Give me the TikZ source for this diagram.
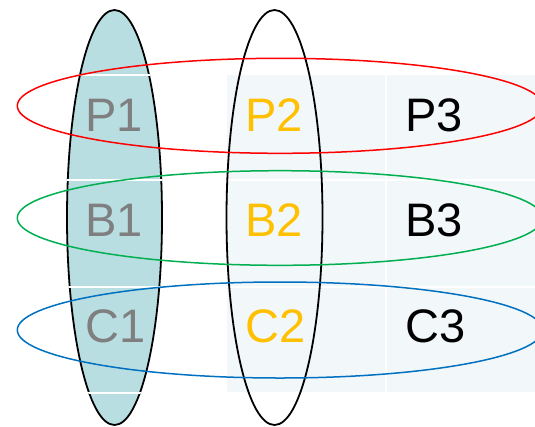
\documentclass[tikz,border=0pt]{standalone}
\usepackage{fontspec}
\setmainfont{Liberation Sans}
\definecolor{cellbg}{RGB}{242,247,250}
\definecolor{tealfill}{RGB}{184,222,226}
\definecolor{txtgray}{RGB}{127,127,127}
\definecolor{txtyellow}{RGB}{255,192,0}
\definecolor{ellred}{RGB}{255,0,0}
\definecolor{ellgreen}{RGB}{0,176,80}
\definecolor{ellblue}{RGB}{0,112,192}
\begin{document}
\begin{tikzpicture}[x=1pt,y=-1pt,
  lab/.style={anchor=base west, inner sep=0pt, font=\fontsize{47}{47}\selectfont},
  cell/.style={fill=cellbg},
  gap/.style={draw=white, line width=2pt},
  vring/.style={draw=black, line width=1.8pt},
  hring/.style={line width=1.5pt}]
\useasboundingbox (0,0) rectangle (535,426);
% table cells
\fill[cell] (227,75) rectangle (385,179);
\fill[cell] (227,181) rectangle (385,285.5);
\fill[cell] (227,287.5) rectangle (385,392);
\fill[cell] (387,75) rectangle (535,179);
\fill[cell] (387,181) rectangle (535,285.5);
\fill[cell] (387,287.5) rectangle (535,392);
% filled vertical ellipse
\fill[tealfill] (114.5,217.5) ellipse [x radius=47.5, y radius=207.5];
\draw[vring] (114.5,217.5) ellipse [x radius=47.5, y radius=207.5];
\begin{scope}
  \clip (114.5,217.5) ellipse [x radius=48.5, y radius=208.5];
  \draw[gap] (60,74.5) -- (170,74.5);
  \draw[gap] (60,180) -- (170,180);
  \draw[gap] (60,286.5) -- (170,286.5);
  \draw[gap] (60,392.7) -- (170,392.7);
\end{scope}
\draw[vring] (274.5,217.5) ellipse [x radius=48, y radius=207.5];
% labels
\node[lab, text=txtgray] (p1) at (85,131) {P1};
\node[lab, text=txtgray] (b1) at (85,236.5) {B1};
\node[lab, text=txtgray] (c1) at (85,342) {C1};
\node[lab, text=txtyellow] (p2) at (245,131) {P2};
\node[lab, text=txtyellow] (b2) at (245,236.5) {B2};
\node[lab, text=txtyellow] (c2) at (245,342) {C2};
\node[lab] (p3) at (405,131) {P3};
\node[lab] (b3) at (405,236.5) {B3};
\node[lab] (c3) at (405,342) {C3};
% horizontal ellipses
\draw[hring, ellred] (280,105.8) ellipse [x radius=262.7, y radius=47.5];
\draw[hring, ellgreen] (280,218) ellipse [x radius=262.7, y radius=47.3];
\draw[hring, ellblue] (280,330) ellipse [x radius=262.7, y radius=48];
\end{tikzpicture}
\end{document}
